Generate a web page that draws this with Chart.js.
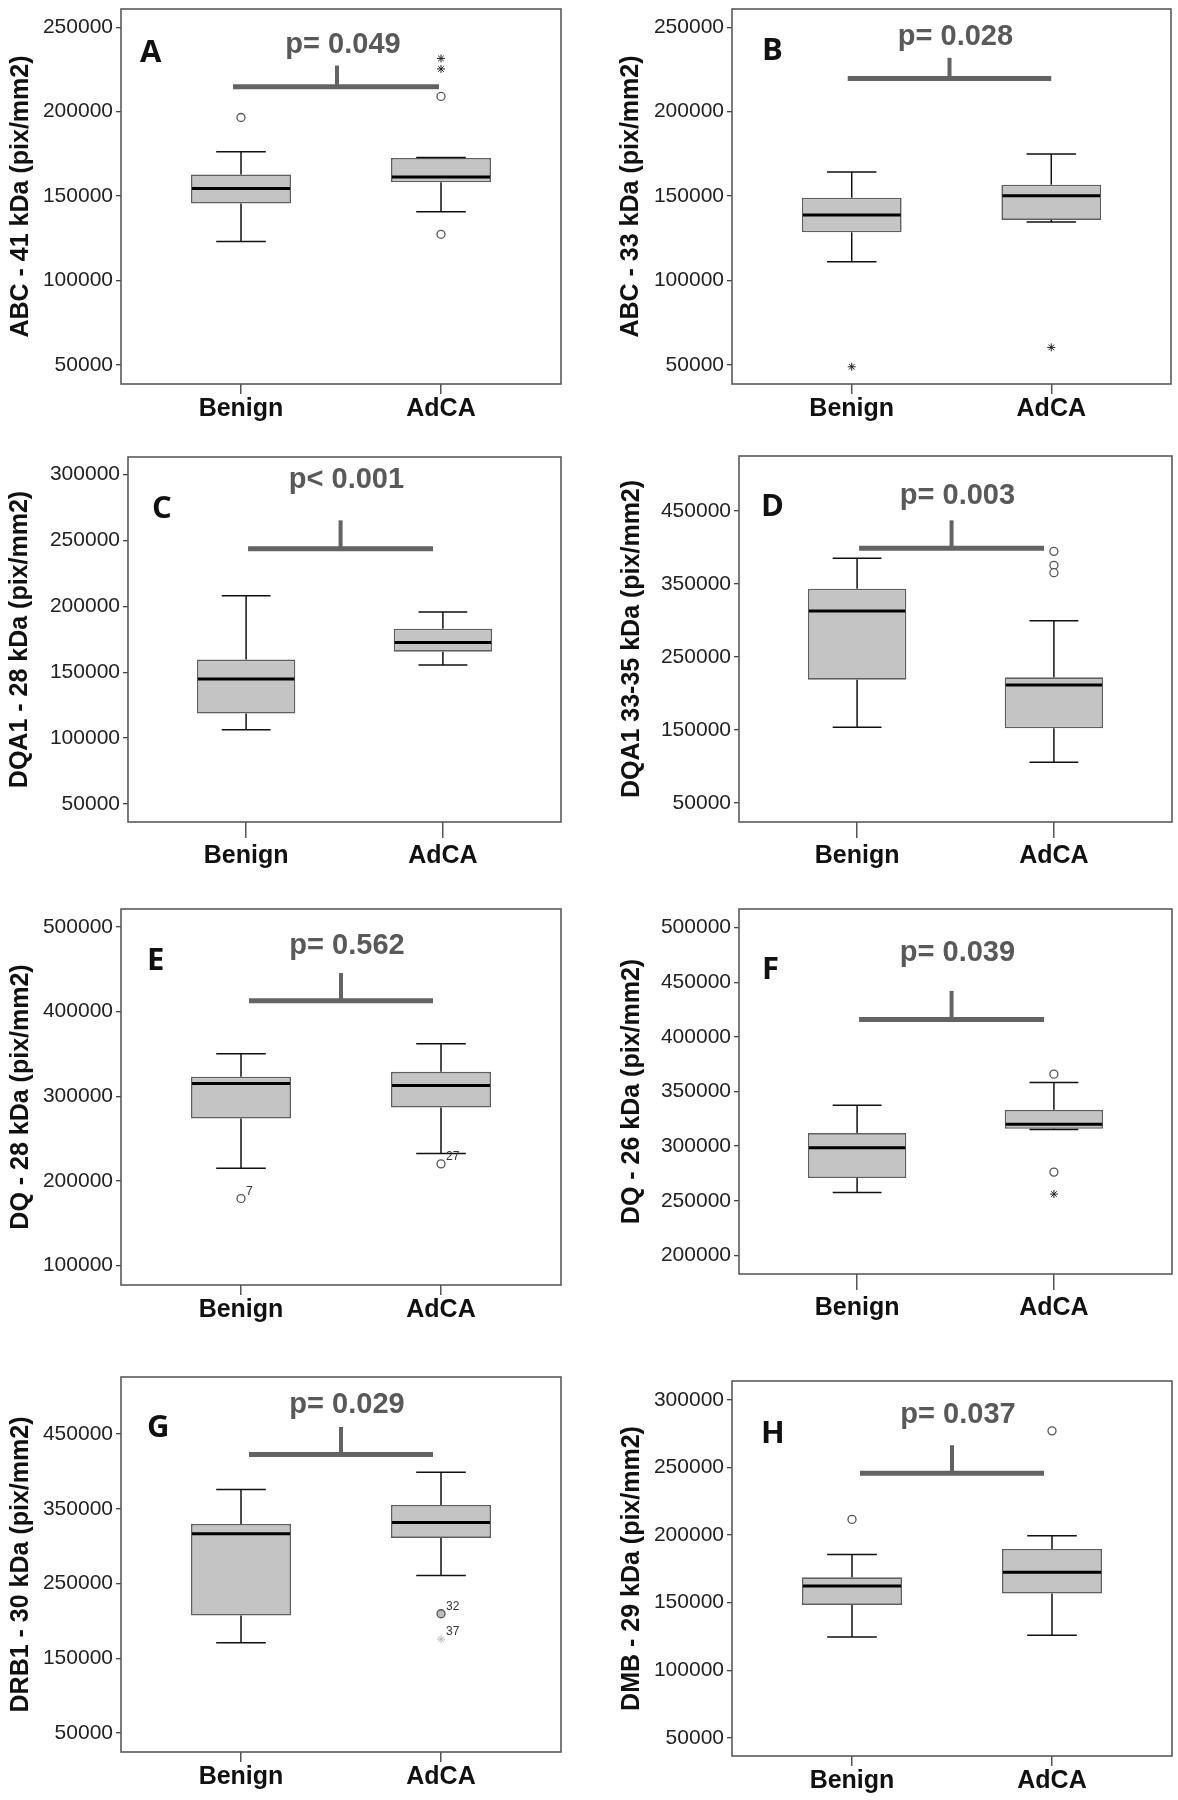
<!DOCTYPE html>
<html>
<head>
<meta charset="utf-8">
<script src="https://cdn.jsdelivr.net/npm/chart.js@4.4.1/dist/chart.umd.min.js"></script>
<style>
    html, body { margin: 0; padding: 0; background: #fff; }
    body { width: 1178px; height: 1800px; position: relative; overflow: hidden; }
    canvas { position: absolute; }
</style>
</head>
<body>
<script>
(function() {
    'use strict';

    /* ---------- data ---------- */
    const groups = ['Benign', 'AdCA'];
    const letters = ['A', 'B', 'C', 'D', 'E', 'F', 'G', 'H'];
    const yTitles = [
        'ABC - 41 kDa (pix/mm2)', 'ABC - 33 kDa (pix/mm2)',
        'DQA1 - 28 kDa (pix/mm2)', 'DQA1 33-35 kDa (pix/mm2)',
        'DQ - 28 kDa (pix/mm2)', 'DQ - 26 kDa (pix/mm2)',
        'DRB1 - 30 kDa (pix/mm2)', 'DMB - 29 kDa (pix/mm2)'
    ];
    const pTexts = ['p= 0.049', 'p= 0.028', 'p< 0.001', 'p= 0.003', 'p= 0.562', 'p= 0.039', 'p= 0.029', 'p= 0.037'];

    // per panel, per group: [low whisker, Q1, median, Q3, high whisker]
    const boxStats = [
        [[123000, 145500, 154500, 162800, 176200], [140700, 158100, 161200, 172500, 172800]],
        [[111100, 128500, 138800, 149000, 164200], [134600, 135800, 150200, 156700, 174900]],
        [[106400, 118600, 144900, 159600, 208100], [155500, 165600, 172500, 183100, 195700]],
        [[153700, 219000, 313000, 343600, 385200], [105700, 152300, 211600, 222100, 299800]],
        [[215100, 273800, 315200, 323100, 350200], [232400, 286800, 312800, 329000, 362100]],
        [[257600, 270700, 298500, 311900, 337500], [315200, 315900, 320100, 333200, 358200]],
        [[170700, 207200, 316400, 329700, 375600], [260700, 311000, 331500, 355100, 398800]],
        [[124600, 148300, 162300, 168700, 185700], [125900, 156700, 172400, 189700, 199500]]
    ];
    // outliers per panel, per group
    const circleOutliers = [
        [[196500], [209000, 127300]],
        [[], []],
        [[], []],
        [[], [394700, 375600, 365500]],
        [[179200], [220200]],
        [[], [365900, 276200]],
        [[], [209500]],
        [[211600], [277100]]
    ];
    const starOutliers = [
        [[], [225300, 231500]],
        [[48800], [60300]],
        [[], []],
        [[], []],
        [[], []],
        [[], [256100]],
        [[], [175600]],
        [[], []]
    ];
    // case numbers written next to some outliers: [group position, value, label]
    const outlierTags = [
        [], [], [], [],
        [[1, 179200, '7'], [2, 220200, '27']],
        [],
        [[2, 209500, '32'], [2, 175600, '37']],
        []
    ];

    const yTicks = [
        [50000, 100000, 150000, 200000, 250000],
        [50000, 100000, 150000, 200000, 250000],
        [50000, 100000, 150000, 200000, 250000, 300000],
        [50000, 150000, 250000, 350000, 450000],
        [100000, 200000, 300000, 400000, 500000],
        [200000, 250000, 300000, 350000, 400000, 450000, 500000],
        [50000, 150000, 250000, 350000, 450000],
        [50000, 100000, 150000, 200000, 250000, 300000]
    ];
    const yRanges = [
        [38600, 260800], [38600, 260800], [36300, 313400], [24000, 525300],
        [77100, 521300], [182900, 517100], [24600, 526200], [36500, 314000]
    ];
    // significance bracket: [bar level, stem top, p-text level]
    const bracketLevels = [
        [214700, 227300, 239700], [219600, 231900, 244300],
        [243800, 265300, 296200], [398900, 437200, 470500],
        [412900, 445600, 477100], [415900, 442100, 477100],
        [422400, 459400, 488800], [245800, 266500, 288700]
    ];
    // bracket extent on the group axis: [from, to, stem]
    const bracketSpan = [
        [0.96, 1.99, 1.48], [0.98, 2.00, 1.49], [1.01, 1.95, 1.48], [1.01, 1.95, 1.48],
        [1.04, 1.96, 1.50], [1.01, 1.95, 1.48], [1.04, 1.96, 1.50], [1.04, 1.96, 1.50]
    ];

    /* ---------- layout (page px): plot left, top, right, bottom, y-title centre x ---------- */
    const plotRects = [
        [121, 9, 561, 384, 21], [732, 9, 1171, 384, 631],
        [128, 457, 561, 822, 20], [739, 456, 1172, 822, 632],
        [121, 909, 561, 1285, 21], [739, 909, 1172, 1274, 632],
        [121, 1377, 561, 1752, 21], [732, 1381, 1172, 1756, 632]
    ];
    const letterOffsets = [[19, 53], [30, 51], [24, 61], [22, 60], [26, 61], [23, 70], [26, 60], [29, 62]];
    // x tick mark length and label gap per panel
    const xTickLen = [10, 10, 16, 16, 10, 16, 10, 10];
    const xLabelPad = [0, 0, 3, 3, 0, 3, 0, 0];

    const FONT = '"Liberation Sans", Arial, sans-serif';
    const PAD_TOP = 18, PAD_RIGHT = 6, X_AXIS_H = 56;
    const BOX_HALF = 0.245, CAP_HALF = 0.124;

    const seg = (x0, y0, x1, y1, color, width) => ({
        type: 'line',
        data: [{ x: x0, y: y0 }, { x: x1, y: y1 }],
        borderColor: color,
        borderWidth: width,
        borderCapStyle: 'butt',
        pointRadius: 0,
        fill: false,
        order: 0
    });

    // frame, panel letter, p-value and case labels for one panel
    const makeDecor = (p) => ({
        id: 'decor' + p,
        afterDatasetsDraw(chart) {
            const { ctx, chartArea: a } = chart;
            const xs = chart.scales.x, ys = chart.scales.y;
            ctx.save();
            ctx.strokeStyle = '#5a5a5a';
            ctx.lineWidth = 1.6;
            ctx.strokeRect(a.left, a.top, a.right - a.left, a.bottom - a.top);

            ctx.fillStyle = '#111';
            ctx.font = '700 31px "Open Sans", ' + FONT;
            ctx.textAlign = 'left';
            ctx.textBaseline = 'alphabetic';
            ctx.fillText(letters[p], a.left + letterOffsets[p][0], a.top + letterOffsets[p][1]);

            ctx.fillStyle = '#595959';
            ctx.font = 'bold 29px ' + FONT;
            ctx.textAlign = 'center';
            ctx.textBaseline = 'middle';
            ctx.fillText(pTexts[p], xs.getPixelForValue(bracketSpan[p][2] + 0.03), ys.getPixelForValue(bracketLevels[p][2]));

            ctx.fillStyle = '#333';
            ctx.font = '12px ' + FONT;
            ctx.textAlign = 'left';
            outlierTags[p].forEach(([gx, v, t]) => {
                ctx.fillText(t, xs.getPixelForValue(gx) + 5, ys.getPixelForValue(v) - 7);
            });
            ctx.restore();
        }
    });

    letters.forEach((letter, p) => {
        const [left, top, right, bottom, titleX] = plotRects[p];
        const canvasLeft = left < 590 ? 0 : 590;
        const axisW = left - canvasLeft;
        const titlePad = titleX - canvasLeft - Math.round(25 * 1.2 / 2);

        const canvas = document.createElement('canvas');
        canvas.width = right - canvasLeft + PAD_RIGHT;
        canvas.height = bottom - top + PAD_TOP + X_AXIS_H;
        canvas.style.left = canvasLeft + 'px';
        canvas.style.top = (top - PAD_TOP) + 'px';
        document.body.appendChild(canvas);

        const datasets = [];
        groups.forEach((g, gi) => {
            const x = gi + 1;
            const [lo, q1, med, q3, hi] = boxStats[p][gi];
            datasets.push(seg(x, lo, x, q1, '#111', 1.5));
            datasets.push(seg(x, q3, x, hi, '#111', 1.5));
            datasets.push(seg(x - CAP_HALF, lo, x + CAP_HALF, lo, '#111', 1.5));
            datasets.push(seg(x - CAP_HALF, hi, x + CAP_HALF, hi, '#111', 1.5));
            datasets.push(seg(x - BOX_HALF, med, x + BOX_HALF, med, '#000', 3));
        });

        // significance bracket
        const [b0, b1, bs] = bracketSpan[p];
        datasets.push(seg(b0, bracketLevels[p][0], b1, bracketLevels[p][0], '#636363', 5));
        datasets.push(seg(bs, bracketLevels[p][0], bs, bracketLevels[p][1], '#636363', 4));

        datasets.push({
            type: 'scatter',
            data: groups.flatMap((g, gi) => circleOutliers[p][gi].map(v => ({ x: gi + 1, y: v }))),
            pointStyle: 'circle',
            pointRadius: 4,
            pointBackgroundColor: letter === 'G' ? '#bdbdbd' : '#fff',
            pointBorderColor: '#555',
            pointBorderWidth: 1.3,
            order: 0
        });
        datasets.push({
            type: 'scatter',
            data: groups.flatMap((g, gi) => starOutliers[p][gi].map(v => ({ x: gi + 1, y: v }))),
            pointStyle: 'star',
            pointRadius: 4,
            pointBorderColor: letter === 'G' ? '#bbb' : '#222',
            pointBorderWidth: 1,
            order: 0
        });

        // boxes: floating bars from Q1 to Q3
        datasets.push({
            type: 'bar',
            data: groups.map((g, gi) => ({ x: gi + 1, y: [boxStats[p][gi][1], boxStats[p][gi][3]] })),
            backgroundColor: '#c4c4c4',
            borderColor: '#5f5f5f',
            borderWidth: 1.6,
            borderSkipped: false,
            barPercentage: 0.5,
            categoryPercentage: 1.0,
            order: 10
        });

        try {
            new Chart(canvas.getContext('2d'), {
                type: 'scatter',
                data: { datasets: datasets },
                plugins: [makeDecor(p)],
                options: {
                    responsive: false,
                    animation: false,
                    events: [],
                    layout: { padding: { top: PAD_TOP, right: PAD_RIGHT, left: 0, bottom: 0 } },
                    plugins: { legend: { display: false }, tooltip: { enabled: false } },
                    scales: {
                        x: {
                            type: 'linear',
                            min: 0.4,
                            max: 2.6,
                            offset: false,
                            afterBuildTicks: axis => { axis.ticks = groups.map((g, gi) => ({ value: gi + 1 })); },
                            afterFit: axis => { axis.height = X_AXIS_H; },
                            grid: { offset: false, drawOnChartArea: false, drawTicks: true, tickLength: xTickLen[p], color: '#555', lineWidth: 1.5 },
                            border: { display: false },
                            ticks: {
                                autoSkip: false,
                                maxRotation: 0,
                                padding: xLabelPad[p],
                                color: '#111',
                                font: { family: FONT, size: 25, weight: 'bold' },
                                callback: v => groups[Math.round(v) - 1]
                            }
                        },
                        y: {
                            type: 'linear',
                            min: yRanges[p][0],
                            max: yRanges[p][1],
                            beginAtZero: false,
                            afterBuildTicks: axis => { axis.ticks = yTicks[p].map(v => ({ value: v })); },
                            afterFit: axis => { axis.width = axisW; },
                            grid: { drawOnChartArea: false, drawTicks: true, tickLength: 5, color: '#444', lineWidth: 1.3 },
                            border: { display: false },
                            title: {
                                display: true,
                                text: yTitles[p],
                                color: '#111',
                                font: { family: FONT, size: 25, weight: 'bold', lineHeight: 1.2 },
                                padding: { top: titlePad, bottom: 0 }
                            },
                            ticks: {
                                autoSkip: false,
                                padding: 3,
                                color: '#222',
                                font: { family: FONT, size: 21 },
                                callback: v => String(v)
                            }
                        }
                    }
                }
            });
        } catch (error) {
            console.error('Error creating panel ' + letter + ':', error);
        }
    });
})();
</script>
</body>
</html>
